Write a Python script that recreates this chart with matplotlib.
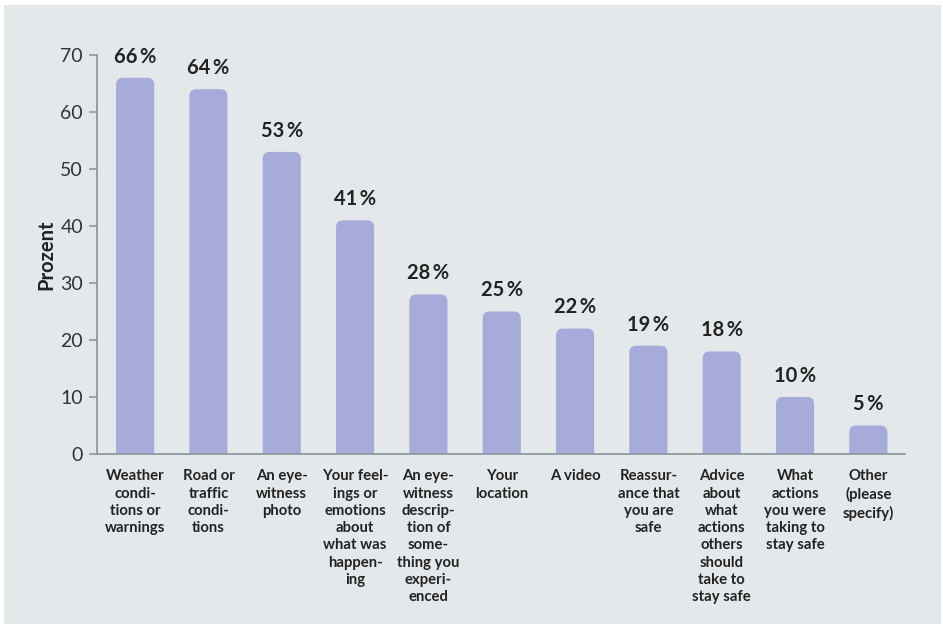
import matplotlib
matplotlib.use("Agg")
import matplotlib.pyplot as plt
from matplotlib.patches import FancyBboxPatch, Rectangle

plt.rcParams['font.family'] = ['Lato', 'DejaVu Sans']

# Survey answers and their shares in percent
categories = [
    "Weather\ncondi-\ntions or\nwarnings",
    "Road or\ntraffic\ncondi-\ntions",
    "An eye-\nwitness\nphoto",
    "Your feel-\nings or\nemotions\nabout\nwhat was\nhappen-\ning",
    "An eye-\nwitness\ndescrip-\ntion of\nsome-\nthing you\nexperi-\nenced",
    "Your\nlocation",
    "A video",
    "Reassur-\nance that\nyou are\nsafe",
    "Advice\nabout\nwhat\nactions\nothers\nshould\ntake to\nstay safe",
    "What\nactions\nyou were\ntaking to\nstay safe",
    "Other\n(please\nspecify)",
]
values = [66, 64, 53, 41, 28, 25, 22, 19, 18, 10, 5]

bar_color = "#a7abd9"
axis_color = "#8c9ba1"
panel_color = "#e4e8eb"

W, H = 943, 624
fig = plt.figure(figsize=(W / 100, H / 100), dpi=100, facecolor="white")

# grey panel behind the chart
fig.patches.append(Rectangle((4 / W, 0), 937 / W, 619 / H, transform=fig.transFigure,
                             facecolor=panel_color, edgecolor="none", zorder=-10))

ax_l, ax_r, ax_b, ax_t = 97, 905, 454, 55
ax = fig.add_axes([ax_l / W, (H - ax_b) / H, (ax_r - ax_l) / W, (ax_b - ax_t) / H])
ax.set_facecolor("none")

x = list(range(len(values)))
ax.set_xlim(-0.52, len(values) - 0.5)
ax.set_ylim(0, 70)

# bars with rounded tops; the lower corners sit below y=0 and get clipped
bw = 0.52
px_per_x = (ax_r - ax_l) / (ax.get_xlim()[1] - ax.get_xlim()[0])
px_per_y = (ax_b - ax_t) / 70
radius_px = 7
aspect = px_per_x / px_per_y
for xi, v in zip(x, values):
    box = FancyBboxPatch((xi - bw / 2, -3), bw, v + 3,
                         boxstyle="round,pad=0,rounding_size=%f" % (radius_px / px_per_x),
                         mutation_aspect=aspect,
                         facecolor=bar_color, edgecolor="none", zorder=2)
    ax.add_patch(box)
    ax.annotate("%d\u2009%%" % v, (xi, v), xytext=(0, 8), textcoords="offset points",
                ha="center", va="bottom", fontsize=14.5, fontweight="bold", color="#222222")

for side in ["top", "right"]:
    ax.spines[side].set_visible(False)
for side in ["left", "bottom"]:
    ax.spines[side].set_color(axis_color)
    ax.spines[side].set_linewidth(1.3)
    ax.spines[side].set_zorder(3)

ax.set_yticks(range(0, 71, 10))
ax.tick_params(axis="y", length=6, width=1.2, color=axis_color, labelsize=14,
               labelcolor="#333333", pad=4)
ax.set_xticks(x)
ax.set_xticklabels(categories, fontsize=10.7, fontweight="bold", color="#222222",
                   linespacing=1.3, va="top")
ax.tick_params(axis="x", length=0, pad=11)

ax.set_ylabel("Prozent", fontsize=14.5, fontweight="bold", color="#222222", labelpad=3)

fig.savefig("out.png", dpi=100, facecolor="white")
